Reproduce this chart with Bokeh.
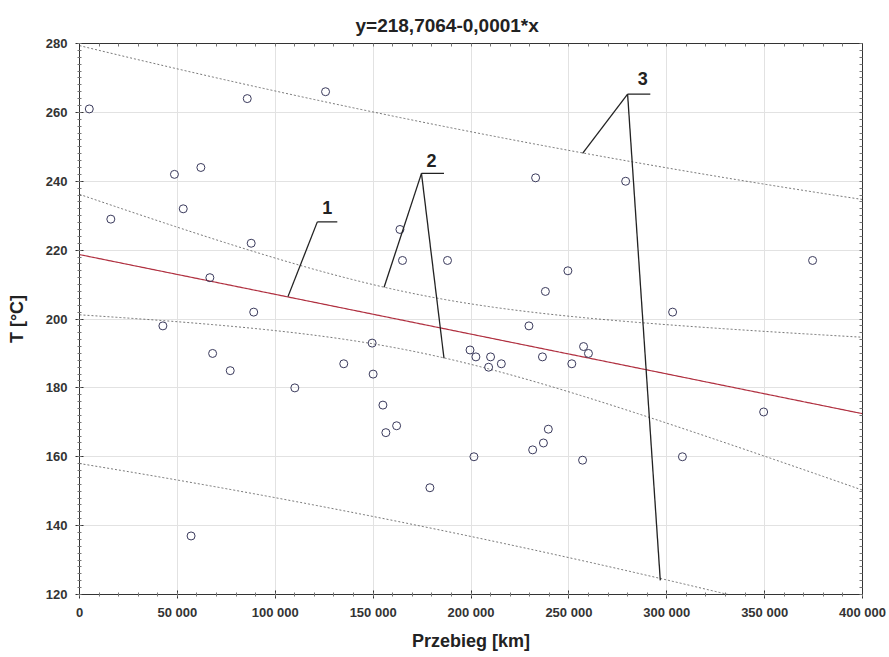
import numpy as np
from bokeh.plotting import figure
from bokeh.models import Range1d, FixedTicker, LinearAxis, ColumnDataSource
from bokeh.core.properties import value
from bokeh.embed import file_html
from bokeh.resources import INLINE

# ---- data ----
MILEAGE = [5000, 16000, 42600, 48500, 53000, 57000, 62000, 66600, 68000, 77000,
           85700, 87700, 89000, 110000, 125700, 135000, 149500, 150000, 155000, 156500,
           162000, 163700, 165000, 179000, 188000, 199500, 201500, 202500, 209000, 210000,
           215500, 229600, 231500, 233000, 236500, 237000, 238000, 239500, 249500, 251500,
           257000, 257500, 260000, 279000, 303000, 308000, 349500, 374500]
TEMP = [261, 229, 198, 242, 232, 137, 244, 212, 190, 185,
        264, 222, 202, 180, 266, 187, 193, 184, 175, 167,
        169, 226, 217, 151, 217, 191, 160, 189, 186, 189,
        187, 198, 162, 241, 189, 164, 208, 168, 214, 187,
        159, 192, 190, 240, 202, 160, 173, 217]

X_TICKS = [0, 50000, 100000, 150000, 200000, 250000, 300000, 350000, 400000]
X_TICK_LABELS = ["0", "50 000", "100 000", "150 000", "200 000", "250 000",
                 "300 000", "350 000", "400 000"]
Y_TICKS = [120, 140, 160, 180, 200, 220, 240, 260, 280]

TITLE = "y=218,7064-0,0001*x"
X_LABEL = "Przebieg [km]"
Y_LABEL = "T [°C]"

# regression line and band parameters
FIT_INTERCEPT = 218.7064
FIT_SLOPE = -0.0001155
BAND_TS = 58.1          # t * s
BAND_N = len(MILEAGE)
X_MEAN = 171000.0
X_SXX = 4.19e11

# annotation callouts: label, text position, apex, underline end, targets
ANNOT_LABELS = ["1", "2", "3"]
ANNOT_TEXT_X = [126600, 179800, 287700]
ANNOT_TEXT_Y = [232.4, 246.1, 269.7]
ANNOT_APEX_X = [121500, 174700, 280000]
ANNOT_APEX_Y = [228.2, 242.3, 265.3]
ANNOT_UNDER_END_X = [131700, 186200, 291600]
ANNOT_TARGETS = [
    [(106500, 206.5)],
    [(155600, 209.2), (186200, 188.6)],
    [(257000, 248.1), (296700, 124.1)],
]

FONT = "Liberation Sans"

# ---- computed lines ----
xg = np.linspace(0, 400000, 401)
yfit = FIT_INTERCEPT + FIT_SLOPE * xg
lev = 1.0 / BAND_N + (xg - X_MEAN) ** 2 / X_SXX
hc = BAND_TS * np.sqrt(lev)
hp = BAND_TS * np.sqrt(1.0 + lev)

p = figure(width=889, height=657,
           x_range=Range1d(0, 400000), y_range=Range1d(120, 280),
           output_backend="svg", toolbar_location=None,
           min_border_left=79, min_border_right=27,
           min_border_top=43, min_border_bottom=63,
           title=TITLE)
p.background_fill_color = "white"
p.border_fill_color = "white"
p.outline_line_color = "#333333"

p.title.align = "left"
p.title.text_font = FONT
p.title.text_font_size = "19px"
p.title.text_font_style = "bold"
p.title.text_color = "#222222"
p.title.offset = 276
p.title.standoff = 16

xminor = list(np.arange(0, 400001, 10000))
yminor = list(np.arange(120, 281, 2))

xa = p.xaxis[0]
xa.ticker = FixedTicker(ticks=X_TICKS, minor_ticks=xminor)
xa.major_label_overrides = {t: l for t, l in zip(X_TICKS, X_TICK_LABELS)}
ya = p.yaxis[0]
ya.ticker = FixedTicker(ticks=Y_TICKS, minor_ticks=yminor)

for ax in (xa, ya):
    ax.axis_line_color = "#333333"
    ax.major_tick_line_color = "#333333"
    ax.minor_tick_line_color = "#777777"
    ax.major_tick_in = 4
    ax.major_tick_out = 4
    ax.minor_tick_in = 2
    ax.minor_tick_out = 2
    ax.major_label_text_font = FONT
    ax.major_label_text_font_style = "bold"
    ax.major_label_text_font_size = "13px"
    ax.major_label_text_color = "#333333"
    ax.axis_label_text_font = FONT
    ax.axis_label_text_font_style = "bold"
    ax.axis_label_text_font_size = "18px"
    ax.axis_label_text_color = "#222222"

xa.axis_label = X_LABEL
xa.major_label_standoff = 6
xa.axis_label_standoff = 8
ya.axis_label = Y_LABEL
ya.major_label_standoff = 8
ya.axis_label_standoff = 16

# frame axes on top and right: tick marks only, no labels
top = LinearAxis(ticker=FixedTicker(ticks=[], minor_ticks=xminor))
right = LinearAxis(ticker=FixedTicker(ticks=[], minor_ticks=yminor))
for ax in (top, right):
    ax.axis_line_color = "#333333"
    ax.minor_tick_line_color = "#777777"
    ax.minor_tick_in = 3
    ax.minor_tick_out = 0
p.add_layout(top, "above")
p.add_layout(right, "right")

p.xgrid.ticker = FixedTicker(ticks=X_TICKS)
p.ygrid.ticker = FixedTicker(ticks=Y_TICKS)
p.grid.grid_line_color = "#e2e2e2"
p.grid.grid_line_width = 1

# bands
band_color = "#555555"
for yy in (yfit + hp, yfit - hp, yfit + hc, yfit - hc):
    p.line(xg, yy, line_color=band_color, line_dash="2 2", line_width=1, line_alpha=0.8)
# regression
p.line(xg, yfit, line_color="#b03040", line_width=1.2)

# points
src = ColumnDataSource(dict(x=MILEAGE, y=TEMP))
p.scatter("x", "y", source=src, marker="circle", size=8,
          fill_color=None, line_color="#3a3a5c", line_width=1)

# annotation leaders
xs, ys = [], []
for i in range(len(ANNOT_LABELS)):
    xs.append([ANNOT_APEX_X[i], ANNOT_UNDER_END_X[i]])
    ys.append([ANNOT_APEX_Y[i], ANNOT_APEX_Y[i]])
    for (tx, ty) in ANNOT_TARGETS[i]:
        xs.append([ANNOT_APEX_X[i], tx])
        ys.append([ANNOT_APEX_Y[i], ty])
p.multi_line(xs, ys, line_color="#222222", line_width=1.3)

p.text(x=ANNOT_TEXT_X, y=ANNOT_TEXT_Y, text=ANNOT_LABELS,
       text_font=value(FONT), text_font_style="bold", text_font_size="18px",
       text_align="center", text_baseline="middle", text_color="#222222")

open("out.html", "w").write(file_html(p, INLINE))
